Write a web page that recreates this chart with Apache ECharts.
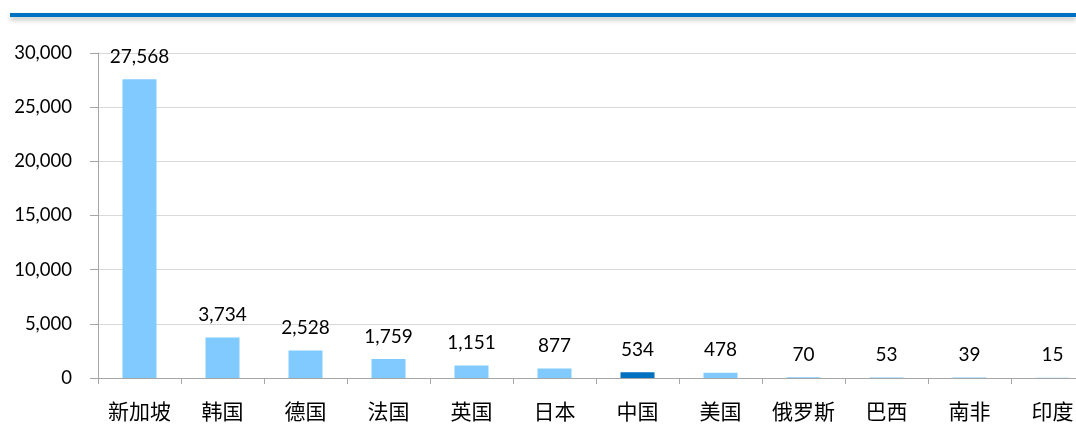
<!DOCTYPE html>
<html><head><meta charset="utf-8">
<script src="https://cdn.jsdelivr.net/npm/echarts@6/dist/echarts.min.js"></script>
<style>html,body{margin:0;padding:0;background:#fff;overflow:hidden;width:1076px;height:430px;}#c{width:1110px;height:430px;}
#bar{position:absolute;left:10px;top:13px;width:1066px;height:4px;background:#0070C0;box-shadow:0 3px 5px rgba(0,0,0,0.25);z-index:2;}</style>
</head><body><div id="bar"></div><div id="c"></div>
<script>
const categories = ['新加坡','韩国','德国','法国','英国','日本','中国','美国','俄罗斯','巴西','南非','印度'];
const values = [27568,3734,2528,1759,1151,877,534,478,70,53,39,15];
const highlight = '中国';
const yTicks = {min:0,max:30000,interval:5000};
const chart = echarts.init(document.getElementById('c'));
chart.setOption({
  animation:false,
  grid:{left:98,top:53,width:996,height:325,containLabel:false},
  xAxis:{type:'category',data:categories,
    axisLine:{lineStyle:{color:'#A6A6A6',width:1}},
    axisTick:{show:true,length:6,alignWithLabel:false,lineStyle:{color:'#A6A6A6'}},
    axisLabel:{color:'#000',fontSize:21,margin:23,fontFamily:'"Noto Sans CJK SC"'}},
  yAxis:{type:'value',min:yTicks.min,max:yTicks.max,interval:yTicks.interval,
    axisLine:{show:true,lineStyle:{color:'#A6A6A6'}},
    axisTick:{show:true,length:8,lineStyle:{color:'#A6A6A6'}},
    splitLine:{lineStyle:{color:'#D9D9D9'}},
    axisLabel:{color:'#000',fontSize:18.5,margin:26,fontFamily:'Lato',
      formatter:v=>v.toLocaleString('en-US')}},
  series:[{type:'bar',barWidth:34,
    data:values.map((v,i)=>({value:v,itemStyle:{color:categories[i]===highlight?'#0070C0':'#80CAFF'}})),
    label:{show:true,position:'top',distance:13,color:'#000',fontSize:19,fontFamily:'Lato',
      formatter:p=>p.value.toLocaleString('en-US')}}]
});
</script></body></html>
